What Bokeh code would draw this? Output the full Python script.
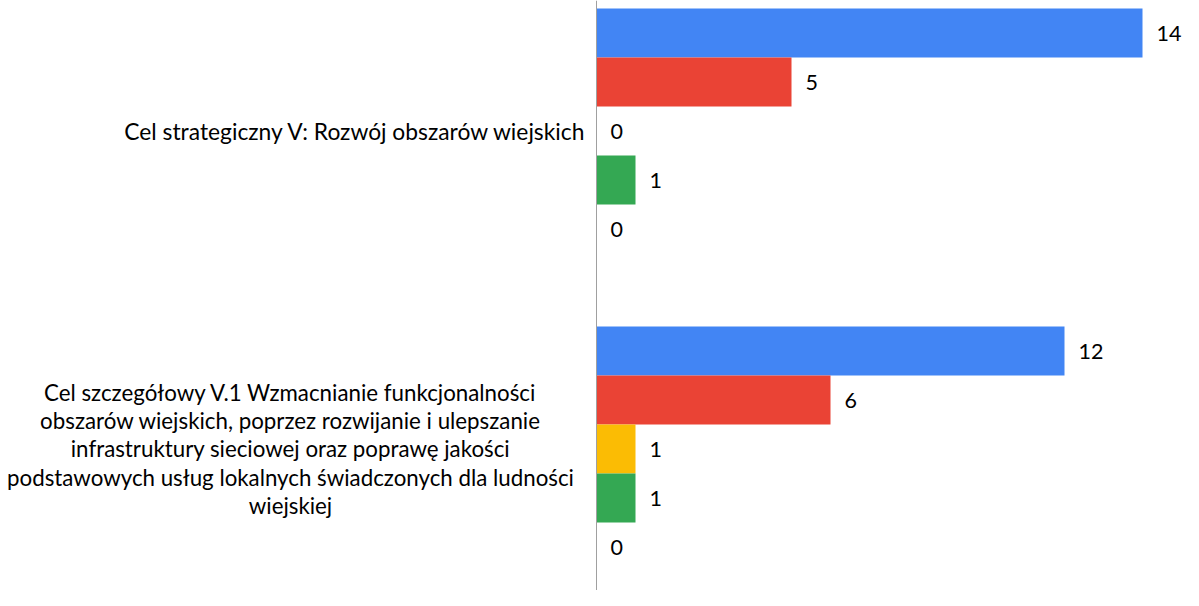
from bokeh.plotting import figure
from bokeh.models import ColumnDataSource, Range1d, Span
from bokeh.core.properties import value
from bokeh.embed import file_html
from bokeh.resources import INLINE

# ---- data ----
categories = [
    "Cel strategiczny V: Rozwój obszarów wiejskich",
    "Cel szczegółowy V.1 Wzmacnianie funkcjonalności\nobszarów wiejskich, poprzez rozwijanie i ulepszanie\ninfrastruktury sieciowej oraz poprawę jakości\npodstawowych usług lokalnych świadczonych dla ludności\nwiejskiej",
]
series_names = ["Seria 1", "Seria 2", "Seria 3", "Seria 4", "Seria 5"]
series_1 = [14, 12]
series_2 = [5, 6]
series_3 = [0, 1]
series_4 = [1, 1]
series_5 = [0, 0]
series_values = [series_1, series_2, series_3, series_4, series_5]
colors = ["#4285F4", "#EA4335", "#FBBC04", "#34A853", "#FF6D01"]

# ---- layout constants ----
W, H = 1183, 590
px_per_unit = 39.0
axis_px = 596
group_px = 318.0
first_center_px = 130.5
slot = 49.0 / group_px
FONT = "Lato"
VAL_FS = "21.5px"
CAT_FS = ["22.8px", "22.3px"]

x_start = -axis_px / px_per_unit
x_end = (W - axis_px) / px_per_unit
y_top = -first_center_px / group_px
y_bottom = (H - first_center_px) / group_px

p = figure(width=W, height=H, output_backend="svg", toolbar_location=None,
           x_range=Range1d(x_start, x_end), y_range=Range1d(y_bottom, y_top),
           min_border=0)
p.axis.visible = False
p.grid.visible = False
p.outline_line_color = None
p.background_fill_color = "white"
p.border_fill_color = "white"

n = len(series_names)
for j, (name, vals, col) in enumerate(zip(series_names, series_values, colors)):
    ys = [i + (j - (n - 1) / 2) * slot for i in range(len(categories))]
    src = ColumnDataSource(dict(y=ys, v=vals, lbl=[str(v) for v in vals]))
    p.hbar(y="y", right="v", left=0, height=slot, source=src,
           fill_color=col, line_color=None)
    p.text(x="v", y="y", text="lbl", source=src, x_offset=14,
           text_align="left", text_baseline="middle",
           text_font=value(FONT), text_font_size=VAL_FS, text_color="#000000")

# category labels (centre positions in px left of the axis)
label_center_px = [241, 306]
label_x = [-c / px_per_unit for c in label_center_px]
csrc = ColumnDataSource(dict(x=label_x, y=list(range(len(categories))),
                             t=categories, fs=CAT_FS))
p.text(x="x", y="y", text="t", source=csrc, text_align="center",
       text_baseline="middle", text_font=value(FONT), text_font_size="fs",
       text_line_height=1.05, text_color="#000000")

p.add_layout(Span(location=0, dimension="height", line_color="#a0a0a0", line_width=1))

open("out.html", "w").write(file_html(p, INLINE))
